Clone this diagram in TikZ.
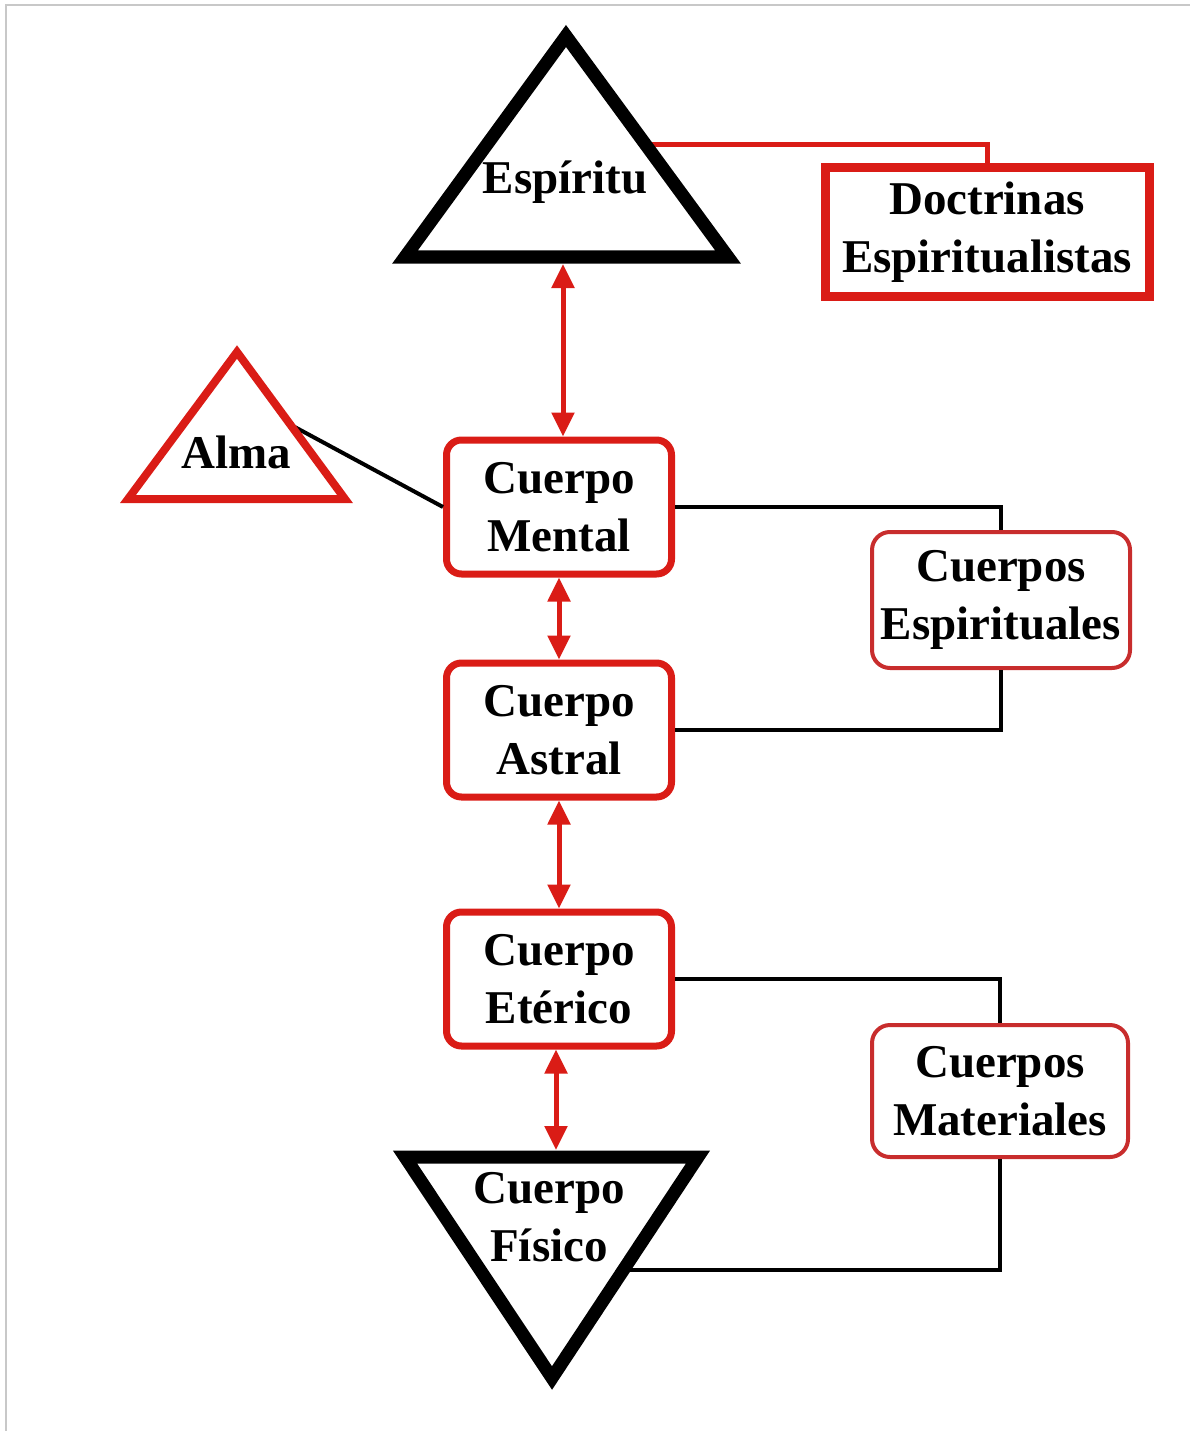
\documentclass[tikz,border=0pt]{standalone}
\usepackage{fontspec}
\setmainfont{Liberation Serif}
\usetikzlibrary{arrows.meta}
\definecolor{dred}{RGB}{218,28,22}
\definecolor{mred}{RGB}{200,45,45}
\definecolor{frame}{RGB}{200,200,200}
\begin{document}
\begin{tikzpicture}[x=1pt,y=-1pt,
 lbl/.style={font=\fontsize{47}{58}\selectfont\bfseries, align=center, inner sep=0pt},
 bodybox/.style={lbl, draw=dred, line width=7pt, rounded corners=15pt, minimum width=225pt, minimum height=134pt, fill=white},
 groupbox/.style={lbl, draw=mred, line width=4pt, rounded corners=18pt, minimum width=256pt, minimum height=132pt, fill=white},
 link/.style={line width=4pt, black},
 redlink/.style={line width=5pt, dred},
 biarrow/.style={draw=dred, line width=5pt, {Triangle[length=24pt,width=22pt]}-{Triangle[length=24pt,width=22pt]}},
 tri/.style={line width=13pt, line join=miter}
]
\useasboundingbox (0,0) rectangle (1190,1431);
\draw[frame, line width=2.5pt] (6,1431) -- (6,5) -- (1190,5);

% boxes
\node[bodybox] (mental) at (559,507) {Cuerpo\\Mental};
\node[bodybox] (astral) at (559,730) {Cuerpo\\Astral};
\node[bodybox] (eterico) at (559,979) {Cuerpo\\Etérico};
\node[groupbox, minimum width=258pt, minimum height=136pt] (espirituales) at (1001,600) {Cuerpos\\Espirituales};
\node[groupbox] (materiales) at (1000,1091) {Cuerpos\\Materiales};
\node[lbl, draw=dred, line width=9pt, minimum width=324pt, minimum height=128pt, fill=white] (doctrinas) at (987,232) {Doctrinas\\Espiritualistas};

% anchor points on the triangles
\coordinate (espR) at (645,145);
\coordinate (espB) at (563,264);
\coordinate (almaR) at (291,425);
\coordinate (fisT) at (556,1150);
\coordinate (fisR) at (623,1270);

% connectors
\draw[redlink] (espR) -| (doctrinas.north);
\draw[link] (almaR) -- (mental.west);
\draw[link] (mental.east) -| (espirituales.north);
\draw[link] (astral.east) -| (espirituales.south);
\draw[link] (eterico.east) -| (materiales.north);
\draw[link] (fisR) -| (materiales.south);

\draw[biarrow] (espB) -- (espB |- mental.north);
\draw[biarrow] (mental.south) -- (astral.north);
\draw[biarrow] (astral.south) -- (eterico.north);
\draw[biarrow] (eterico.south -| fisT) -- (fisT);

% triangles
\draw[tri, fill=white] (566,36) -- (728,257) -- (405,257) -- cycle;
\node[lbl] (espiritu) at (565,182) {Espíritu};
\draw[tri, draw=dred, line width=8pt, fill=white] (237,352) -- (345,499) -- (128,499) -- cycle;
\node[lbl] (alma) at (236,452) {Alma};
\draw[tri, fill=white] (405,1157) -- (698,1157) -- (552,1378) -- cycle;
\node[lbl] (fisico) at (549,1217) {Cuerpo\\Físico};
\end{tikzpicture}
\end{document}
